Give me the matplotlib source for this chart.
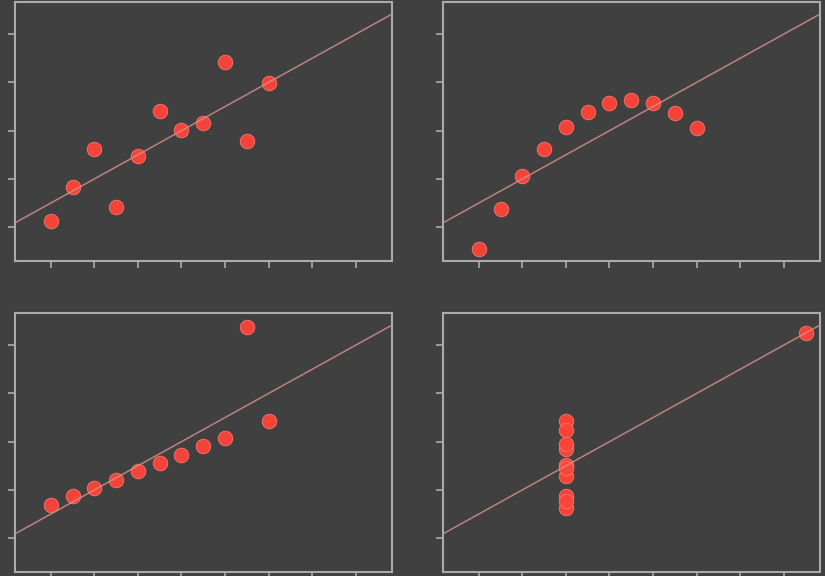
import numpy as np
import matplotlib.pyplot as plt

# Anscombe's quartet
x_123 = [10, 8, 13, 9, 11, 14, 6, 4, 12, 7, 5]
y1 = [8.04, 6.95, 7.58, 8.81, 8.33, 9.96, 7.24, 4.26, 10.84, 4.82, 5.68]
y2 = [9.14, 8.14, 8.74, 8.77, 9.26, 8.10, 6.13, 3.10, 9.13, 7.26, 4.74]
y3 = [7.46, 6.77, 12.74, 7.11, 7.81, 8.84, 6.08, 5.39, 8.15, 6.42, 5.73]
x4 = [8, 8, 8, 8, 8, 8, 8, 19, 8, 8, 8]
y4 = [6.58, 5.76, 7.71, 8.84, 8.47, 7.04, 5.25, 12.50, 5.56, 7.91, 6.89]

x_ticks = [4, 6, 8, 10, 12, 14, 16, 18]
y_ticks = [4, 6, 8, 10, 12]

bg = '#404040'
frame = '#ababab'

fig = plt.figure(figsize=(8.25, 5.76), dpi=100, facecolor=bg)

# panel positions in pixels (left, top, right, bottom)
W, H = 825, 576
boxes = [
    (15, 2, 392, 261),
    (443, 2, 820, 261),
    (15, 313, 392, 572),
    (443, 313, 820, 572),
]
datasets = [(x_123, y1), (x_123, y2), (x_123, y3), (x4, y4)]

xlim = (2.36, 19.66)
ylim = (2.60, 13.33)
xline = np.array(xlim)

for (l, t, r, b), (xs, ys) in zip(boxes, datasets):
    ax = fig.add_axes([l / W, 1 - b / H, (r - l) / W, (b - t) / H])
    ax.set_facecolor(bg)
    ax.scatter(xs, ys, s=110, color='#ff4438', edgecolors='#ff7a70',
               linewidths=0.6, alpha=0.95, zorder=2)
    ax.plot(xline, 3 + 0.5 * xline, color='#d09088', linewidth=1.1,
            alpha=0.85, zorder=3)
    ax.set_xlim(xlim)
    ax.set_ylim(ylim)
    ax.set_xticks(x_ticks)
    ax.set_yticks(y_ticks)
    ax.set_xticklabels([])
    ax.set_yticklabels([])
    ax.tick_params(colors=frame, length=5, width=1.2, direction='out')
    for sp in ax.spines.values():
        sp.set_color(frame)
        sp.set_linewidth(1.5)

fig.savefig('out.png', dpi=100, facecolor=bg)
